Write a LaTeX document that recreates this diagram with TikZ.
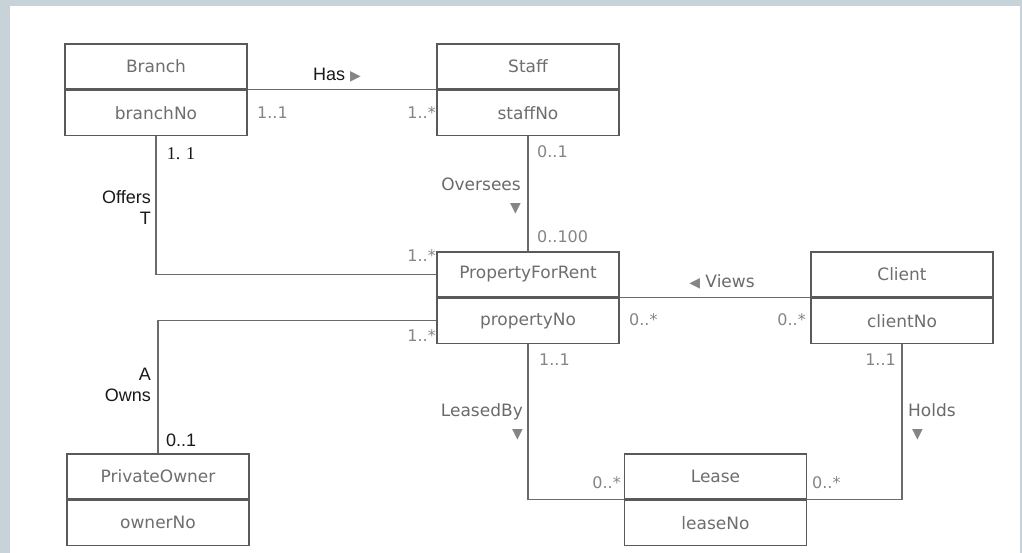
\documentclass[tikz,border=0pt]{standalone}
\usepackage{fontspec}
\setmainfont{DejaVu Sans}
\newfontfamily\darkfont{Liberation Sans}
\newfontfamily\serffont{Liberation Serif}
\newfontfamily\symfont{DejaVu Sans}
\usetikzlibrary{positioning}
\definecolor{scanbg}{HTML}{C8D2D9}
\definecolor{boxline}{HTML}{5A5A5A}
\definecolor{linegrey}{HTML}{6A6A6A}
\definecolor{clstext}{HTML}{6E6E6E}
\definecolor{multgrey}{HTML}{858585}
\definecolor{rolegrey}{HTML}{6A6A6A}
\newcommand{\tri}[1]{{\symfont\fontsize{14}{14}\selectfont\color{multgrey}#1}}
\tikzset{
  clsname/.style={draw=boxline,line width=1.3pt,minimum width=182pt,
    minimum height=45pt,inner sep=0pt,text=clstext,
    font=\fontsize{17}{20}\selectfont},
  clsattr/.style={clsname},
  assoc/.style={draw=linegrey,line width=1.2pt},
  mult/.style={font=\fontsize{16}{19}\selectfont,text=multgrey,inner sep=0pt},
  rolelbl/.style={font=\fontsize{17}{22}\selectfont,text=rolegrey,inner sep=0pt},
  darklbl/.style={font=\darkfont\fontsize{18}{21}\selectfont,text=black!90,
    inner sep=0pt},
  serlbl/.style={font=\serffont\fontsize{18}{21}\selectfont,text=black!90,
    inner sep=0pt},
}

\begin{document}
\begin{tikzpicture}[x=1pt,y=-1pt]
  \useasboundingbox (0,0) rectangle (1022,553);
  \fill[scanbg] (0,0) rectangle (1022,553);
  \fill[white] (10,6) rectangle (1020,553);

  % classes
  \node[clsname] (branch) at (156,66.5) {Branch};
  \node[clsattr,below=0pt of branch] (branchno) {branchNo};
  \node[clsname] (staff) at (528,66.5) {Staff};
  \node[clsattr,below=0pt of staff] (staffno) {staffNo};
  \node[clsname] (pfr) at (528,274.5) {PropertyForRent};
  \node[clsattr,below=0pt of pfr] (propno) {propertyNo};
  \node[clsname] (client) at (902,274.5) {Client};
  \node[clsattr,below=0pt of client] (clientno) {clientNo};
  \node[clsname] (owner) at (158,476.5) {PrivateOwner};
  \node[clsattr,below=0pt of owner] (ownerno) {ownerNo};
  \node[clsname] (lease) at (715.5,476.5) {Lease};
  \node[clsattr,below=0pt of lease] (leaseno) {leaseNo};

  % associations
  \draw[assoc] (branch.south east) -- (staff.south west);
  \draw[assoc] (branchno.south) |- (pfr.west);
  \draw[assoc] (staffno.south) -- (pfr.north);
  \draw[assoc] (propno.west) -| (owner.north);
  \draw[assoc] (pfr.south east) -- (client.south west);
  \draw[assoc] (propno.south) |- (lease.south west);
  \draw[assoc] (clientno.south) |- (lease.south east);

  % labels and multiplicities
  \node[darklbl] (haslbl) at (337,75) {Has \tri{▶}};
  \node[mult,anchor=west] (brhas) at (257,113) {1..1};
  \node[mult,anchor=east] (sthas) at (436,113) {1..*};
  \node[serlbl] (broff) at (181,154) {1. 1};
  \node[darklbl,align=right,anchor=east] (offlbl) at (151,207) {Offers\\T};
  \node[mult,anchor=east] (pfroff) at (436,256) {1..*};
  \node[rolelbl,align=right,anchor=east] (ovlbl) at (521,196) {Oversees\\\tri{▼}};
  \node[mult,anchor=west] (stov) at (537,152) {0..1};
  \node[mult,anchor=west] (pfrov) at (537,237) {0..100};
  \node[mult,anchor=east] (pfrown) at (436,336) {1..*};
  \node[darklbl,align=right,anchor=east] (ownlbl) at (151,385) {A\\Owns};
  \node[darklbl,anchor=west] (poown) at (166,440) {0..1};
  \node[rolelbl] (viewlbl) at (722,282) {\tri{◀} Views};
  \node[mult,anchor=west] (pfrview) at (629,320) {0..*};
  \node[mult,anchor=east] (clview) at (806,320) {0..*};
  \node[mult,anchor=west] (pfrls) at (539,360) {1..1};
  \node[mult,anchor=east] (clls) at (896,360) {1..1};
  \node[rolelbl,align=right,anchor=east] (lblbl) at (523,422) {LeasedBy\\\tri{▼}};
  \node[rolelbl,align=left,anchor=west] (holdlbl) at (908,422) {Holds\\\hspace{4pt}\tri{▼}};
  \node[mult,anchor=east] (lspfr) at (621,483) {0..*};
  \node[mult,anchor=west] (lscl) at (812,483) {0..*};
\end{tikzpicture}
\end{document}
